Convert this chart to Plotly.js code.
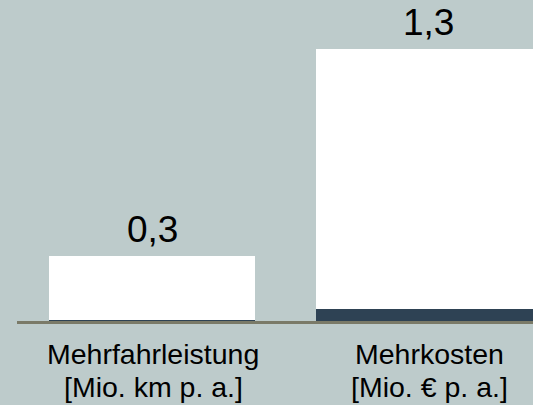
<!DOCTYPE html>
<html>
<head>
<meta charset="utf-8">
<script src="https://cdn.plot.ly/plotly-3.0.1.min.js"></script>
<style>
  html, body { margin: 0; padding: 0; background: #bdcbcb; }
  #chart { width: 533px; height: 405px; }
</style>
</head>
<body>
<div id="chart"></div>
<script>
// Data
const categories = ["Mehrfahrleistung", "Mehrkosten"];
const catLine1 = ["Mehrfahrleistung", "Mehrkosten"];
const catLine2 = ["[Mio. km p. a.]", "[Mio. € p. a.]"];
const totals = [0.313, 1.3];          // full bar heights
const darkBase = [0.005, 0.057];      // dark navy segment at the bottom
const valueLabels = ["0,3", "1,3"];

const whiteTop = totals.map((t, i) => t - darkBase[i]);

const barWidths = [0.746, 0.81];
const bg = "#bdcbcb";
const font = "Liberation Sans, Arial, sans-serif";

const traces = [
  {
    type: "bar", x: categories, y: darkBase, width: barWidths,
    marker: { color: "#2e4254", line: { width: 0 } },
    hoverinfo: "skip", showlegend: false
  },
  {
    type: "bar", x: categories, y: whiteTop, width: barWidths,
    marker: { color: "#ffffff", line: { width: 0 } },
    hoverinfo: "skip", showlegend: false
  }
];

const annotations = [];
categories.forEach((c, i) => {
  annotations.push({
    x: c, y: totals[i], xref: "x", yref: "y",
    text: valueLabels[i], showarrow: false,
    xanchor: "center", yanchor: "bottom", yshift: 4,
    font: { family: font, size: 37, color: "#000000" }
  });
  annotations.push({
    x: c, y: 0, xref: "x", yref: "paper",
    text: catLine1[i], showarrow: false,
    xanchor: "center", yanchor: "top", yshift: -15, xshift: 1,
    font: { family: font, size: 28.5, color: "#000000" }
  });
  annotations.push({
    x: c, y: 0, xref: "x", yref: "paper",
    text: catLine2[i], showarrow: false,
    xanchor: "center", yanchor: "top", yshift: -48, xshift: 1,
    font: { family: font, size: 28.5, color: "#000000" }
  });
});

const layout = {
  width: 533, height: 405,
  margin: { l: 17, r: 0, t: 0, b: 84, pad: 0 },
  paper_bgcolor: bg, plot_bgcolor: bg,
  barmode: "stack",
  showlegend: false,
  xaxis: {
    type: "category", range: [-0.4891, 1.3804],
    showticklabels: false, ticks: "", showgrid: false, zeroline: false,
    showline: true, linecolor: "#7a7a68", linewidth: 3, fixedrange: true
  },
  yaxis: {
    range: [0, 1.534], visible: false, showgrid: false, zeroline: false, fixedrange: true
  },
  annotations: annotations
};

Plotly.newPlot("chart", traces, layout, { displayModeBar: false, staticPlot: true });
</script>
</body>
</html>
